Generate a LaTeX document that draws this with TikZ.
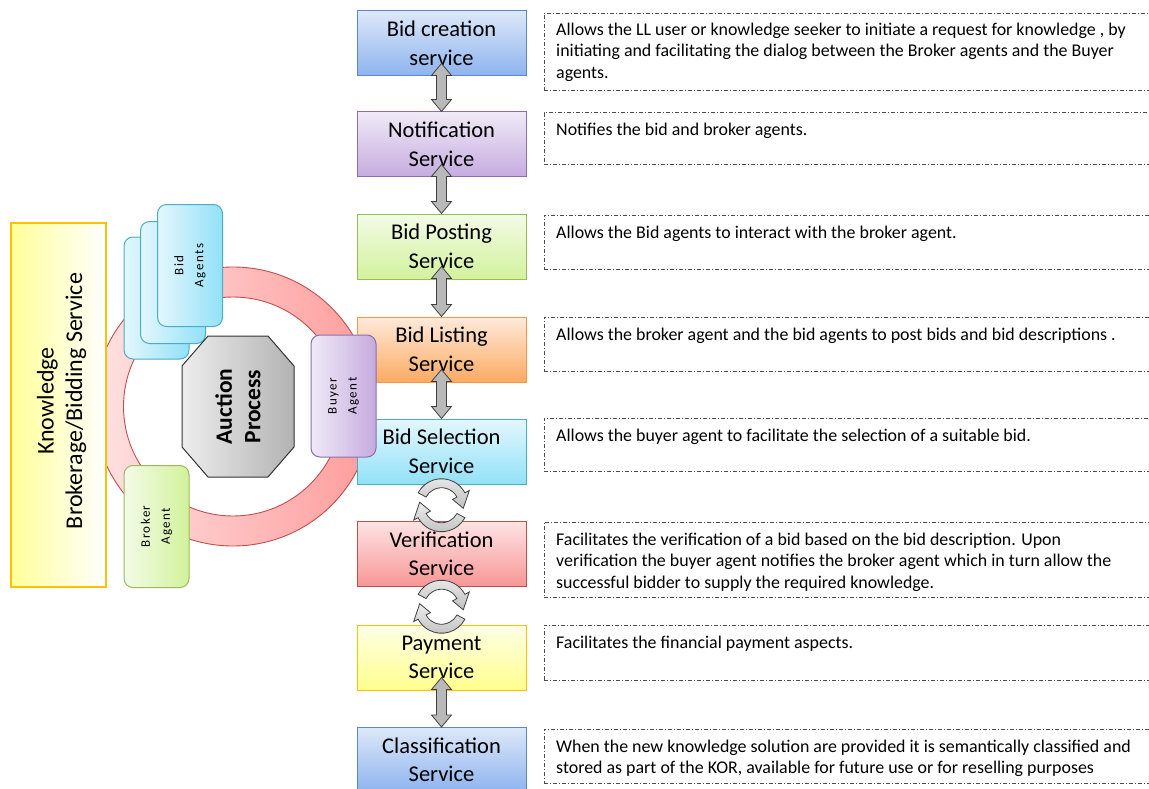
\documentclass[tikz,border=0pt]{standalone}
\usepackage{fontspec}
\setmainfont{Carlito}
\usetikzlibrary{calc}

\definecolor{blueT}{HTML}{DDE8F9}
\definecolor{blueB}{HTML}{8DB3EE}
\definecolor{blueD}{HTML}{5B88C8}
\definecolor{purT}{HTML}{F0EAF7}
\definecolor{purB}{HTML}{C5ABDF}
\definecolor{purD}{HTML}{8C6FB0}
\definecolor{grnT}{HTML}{F3FBE7}
\definecolor{grnB}{HTML}{D2F29C}
\definecolor{grnD}{HTML}{9BBB59}
\definecolor{orgT}{HTML}{FFEADB}
\definecolor{orgB}{HTML}{FBAA62}
\definecolor{orgD}{HTML}{F79646}
\definecolor{cyaT}{HTML}{E3F7FD}
\definecolor{cyaB}{HTML}{92E1F8}
\definecolor{cyaD}{HTML}{4BACC6}
\definecolor{redT}{HTML}{FFE3E3}
\definecolor{redB}{HTML}{F79696}
\definecolor{redD}{HTML}{C0504D}
\definecolor{yelT}{HTML}{FFFFE6}
\definecolor{yelB}{HTML}{FFFF8E}
\definecolor{yelD}{HTML}{FFC000}
\definecolor{ringL}{HTML}{FFE2E2}
\definecolor{ringR}{HTML}{FF9C9C}
\definecolor{ringD}{HTML}{C0504D}
\definecolor{kbL}{HTML}{FFFF99}
\definecolor{arrD}{HTML}{404040}

% double-headed block arrow between two stacked service boxes
\newcommand{\servlink}[2]{%
  \shadedraw[blockarr] let \p1=($(#1.south)+(0,-13)$), \p2=(#2.north) in
    (\x1,\y1) -- (\x1+10pt,\y1-12pt) -- (\x1+5pt,\y1-12pt)
    -- (\x1+5pt,\y2+12pt) -- (\x1+10pt,\y2+12pt) -- (\x1,\y2)
    -- (\x1-10pt,\y2+12pt) -- (\x1-5pt,\y2+12pt)
    -- (\x1-5pt,\y1-12pt) -- (\x1-10pt,\y1-12pt) -- cycle;}

% pair of curved arrows forming a cycle around a coordinate
\newcommand{\cyclemark}[1]{%
  \begin{scope}[shift={(#1)}]
    \foreach \r in {0,180}{
      \shadedraw[cycarr, rotate=\r]
        (152:26.5pt) arc[start angle=152, end angle=28, radius=26.5pt]
        -- (28:31.5pt) -- (-8:22pt) -- (28:12.5pt) -- (28:17.5pt)
        arc[start angle=28, end angle=152, radius=17.5pt] -- cycle;
    }
  \end{scope}}

\begin{document}
\begin{tikzpicture}[x=1pt, y=-1pt,
  svc/.style={rectangle, minimum width=169pt, minimum height=65pt,
    align=center, line width=1pt, inner sep=0pt,
    font=\fontsize{22.5}{28.5}\selectfont},
  svcblue/.style={svc, draw=blueD, top color=blueT, bottom color=blueB},
  svcpur/.style={svc, draw=purD, top color=purT, bottom color=purB},
  svcgrn/.style={svc, draw=grnD, top color=grnT, bottom color=grnB},
  svcorg/.style={svc, draw=orgD, top color=orgT, bottom color=orgB},
  svccya/.style={svc, draw=cyaD, top color=cyaT, bottom color=cyaB},
  svcred/.style={svc, draw=redD, top color=redT, bottom color=redB},
  svcyel/.style={svc, draw=yelD, top color=yelT, bottom color=yelB},
  desc/.style={rectangle, draw=black!70, line width=0.8pt,
    dash pattern=on 4pt off 2pt on 1pt off 2pt,
    minimum width=640pt, anchor=north west, inner sep=0pt},
  desctext/.style={anchor=base west, inner sep=0pt,
    font=\fontsize{17.9}{21.3}\selectfont},
  agent/.style={rectangle, rounded corners=9pt, minimum width=65pt,
    minimum height=122pt, line width=1pt},
  bidagent/.style={agent, draw=cyaD, left color=cyaT, right color=cyaB},
  agentlabel/.style={rotate=90, align=center, inner sep=0pt,
    font=\fontsize{13}{20}\selectfont\addfontfeatures{LetterSpace=11}},
  blockarr/.style={draw=arrD, line width=0.8pt, left color=gray!55,
    middle color=gray!12, right color=gray!55},
  cycarr/.style={draw=arrD, line width=0.8pt, top color=gray!15,
    bottom color=gray!50}
]
\clip (0,0) rectangle (1149,789);

% ring around the auction process
\shadedraw[left color=ringL, right color=ringR, draw=ringD, line width=0.9pt,
  even odd rule] (233,406.5) circle[radius=139.5pt] (233,406.5) circle[radius=109.5pt];

% outer service frame
\node[rectangle, minimum width=95pt, minimum height=364pt, draw=yelD,
  line width=1.2pt, left color=kbL, right color=white] (know) at (58.5,405) {};
\node[rotate=90, align=center, inner sep=0pt,
  font=\fontsize{24}{28.5}\selectfont] (knowtxt) at ($(know.center)+(3,-4)$)
  {Knowledge\\Brokerage/Bidding Service};

% service column
\node[svcblue] (create) at (441.5,43.5)  {Bid creation\\service};
\node[svcpur]  (notif)  at (441.5,144.5) {Notification\\Service};
\node[svcgrn]  (post)   at (441.5,246.5) {Bid Posting\\Service};
\node[svcorg]  (list)   at (441.5,349.5) {Bid Listing\\Service};
\node[svccya]  (sel)    at (441.5,451.5) {Bid Selection\\Service};
\node[svcred]  (ver)    at (441.5,554)   {Verification\\Service};
\node[svcyel]  (pay)    at (441.5,657.5) {Payment\\Service};
\node[svcblue] (cls)    at (441.5,760)   {Classification\\Service};

% agents around the ring
\node[bidagent] (bidc) at (156.5,298) {};
\node[bidagent] (bidb) at (173,282.5) {};
\node[bidagent] (bida) at (190,265.5) {};
\node[agentlabel] (bidtxt) at (bida.center) {Bid\\Agents};

\node[agent, draw=purD, left color=purT, right color=purB] (buyer) at (343.5,396) {};
\node[agentlabel] (buyertxt) at (buyer.center) {Buyer\\Agent};

\node[agent, draw=grnD, left color=grnT, right color=grnB] (broker) at (156.5,526.5) {};
\node[agentlabel] (brokertxt) at (broker.center) {Broker\\Agent};

% central octagon
\shadedraw[left color=gray!14, right color=gray!60, draw=black!80, line width=1pt]
  (208,336) -- (268,336) -- (294,366) -- (294,447) -- (268,477)
  -- (208,477) -- (182,447) -- (182,366) -- cycle;
\node[rotate=90, align=center, inner sep=0pt,
  font=\bfseries\fontsize{23.5}{28.5}\selectfont] (auction) at (238,406.5)
  {Auction\\Process};

% links between services
\servlink{create}{notif}
\servlink{notif}{post}
\servlink{post}{list}
\servlink{list}{sel}
\servlink{pay}{cls}

\coordinate (cyc1) at ($(sel.south)!0.5!(ver.north)+(0,2.5)$);
\coordinate (cyc2) at ($(ver.south)!0.5!(pay.north)+(0,1)$);
\cyclemark{cyc1}
\cyclemark{cyc2}

% descriptions
\node[desc, minimum height=77pt] (d1) at (544,13) {};
\node[desctext] at ($(d1.north west)+(12,22.5)$) {\parbox[t]{620pt}{\raggedright
  Allows the LL user or knowledge seeker to initiate a request for knowledge , by\\
  initiating and facilitating the dialog between the Broker agents and the Buyer\\
  agents.}};

\node[desc, minimum height=52pt] (d2) at (544,112.5) {};
\node[desctext] at ($(d2.north west)+(12,23.5)$) {\parbox[t]{620pt}{\raggedright
  Notifies the bid and broker agents.}};

\node[desc, minimum height=54pt] (d3) at (544,215) {};
\node[desctext] at ($(d3.north west)+(12,23.5)$) {\parbox[t]{620pt}{\raggedright
  Allows the Bid agents to interact with the broker agent.}};

\node[desc, minimum height=54pt] (d4) at (544,317) {};
\node[desctext] at ($(d4.north west)+(12,23.5)$) {\parbox[t]{620pt}{\raggedright
  Allows the broker agent and the bid agents to post bids and bid descriptions .}};

\node[desc, minimum height=53pt] (d5) at (544,418) {};
\node[desctext] at ($(d5.north west)+(12,23.5)$) {\parbox[t]{620pt}{\raggedright
  Allows the buyer agent to facilitate the selection of a suitable bid.}};

\node[desc, minimum height=75pt] (d6) at (544,522) {};
\node[desctext] at ($(d6.north west)+(12,23.5)$) {\parbox[t]{620pt}{\raggedright
  Facilitates the verification of a bid based on the bid description. Upon\\
  verification the buyer agent notifies the broker agent which in turn allow the\\
  successful bidder to supply the required knowledge.}};

\node[desc, minimum height=55pt] (d7) at (544,625) {};
\node[desctext] at ($(d7.north west)+(12,23.5)$) {\parbox[t]{620pt}{\raggedright
  Facilitates the financial payment aspects.}};

\node[desc, minimum height=54pt] (d8) at (544,729) {};
\node[desctext] at ($(d8.north west)+(12,23.5)$) {\parbox[t]{620pt}{\raggedright
  When the new knowledge solution are provided it is semantically classified and\\
  stored as part of the KOR, available for future use or for reselling purposes}};
\end{tikzpicture}
\end{document}
